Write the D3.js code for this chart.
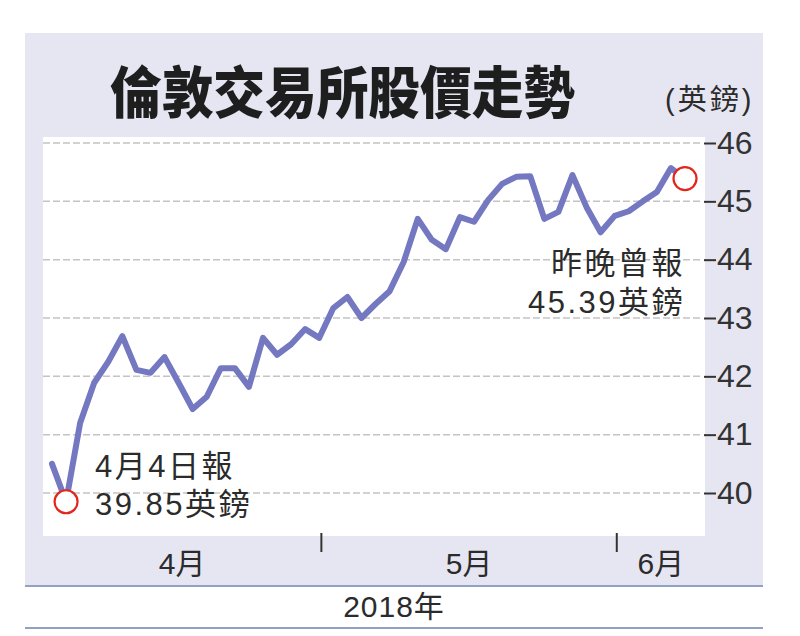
<!DOCTYPE html>
<html>
<head>
<meta charset="utf-8">
<script src="https://cdn.jsdelivr.net/npm/d3@7"></script>
<style>
  body { margin: 0; background: #fff; }
  svg { display: block; }
</style>
</head>
<body>
<svg id="chart" width="800" height="636"></svg>
<script>
// LSE share price, trading days from 3 Apr to 7 Jun 2018 (GBP)
const tradingDays = [
  "2018-04-03","2018-04-04","2018-04-05","2018-04-06","2018-04-09","2018-04-10","2018-04-11","2018-04-12","2018-04-13",
  "2018-04-16","2018-04-17","2018-04-18","2018-04-19","2018-04-20","2018-04-23","2018-04-24","2018-04-25","2018-04-26",
  "2018-04-27","2018-04-30",
  "2018-05-01","2018-05-02","2018-05-03","2018-05-04","2018-05-08","2018-05-09","2018-05-10","2018-05-11","2018-05-14",
  "2018-05-15","2018-05-16","2018-05-17","2018-05-18","2018-05-21","2018-05-22","2018-05-23","2018-05-24","2018-05-25",
  "2018-05-29","2018-05-30","2018-05-31",
  "2018-06-01","2018-06-04","2018-06-05","2018-06-06","2018-06-07"
];
const prices = [
  40.50, 39.85, 41.20, 41.89, 42.25, 42.69, 42.11, 42.06, 42.33, 41.89,
  41.44, 41.65, 42.14, 42.14, 41.82, 42.66, 42.37, 42.55, 42.81, 42.66,
  43.17, 43.36, 43.00, 43.24, 43.46, 43.96, 44.70, 44.34, 44.18, 44.73,
  44.65, 45.02, 45.30, 45.42, 45.43, 44.70, 44.82, 45.45, 44.90, 44.47,
  44.75, 44.83, 45.00, 45.16, 45.57, 45.39
];
const yTicks = [40, 41, 42, 43, 44, 45, 46];
const months = ["4月", "5月", "6月"];
const monthStart = ["2018-04", "2018-05", "2018-06"];
// the two highlighted quotes: index into tradingDays + caption lines
const callouts = [
  {idx: 1,  lines: ["4月4日報", "39.85英鎊"]},
  {idx: 45, lines: ["昨晚曾報", "45.39英鎊"]}
];
const title = "倫敦交易所股價走勢";
const unit = "(英鎊)";
const yearLabel = "2018年";

const svg = d3.select("#chart");
const font = "'Liberation Sans', 'Noto Sans CJK TC', sans-serif";

// panel layout
const panel = {left: 25, right: 763, top: 33, bottom: 586};
const plot = {left: 43, right: 705, top: 137, bottom: 536};

// background panel
svg.append("rect")
  .attr("x", panel.left).attr("y", panel.top)
  .attr("width", panel.right - panel.left).attr("height", panel.bottom - panel.top)
  .attr("fill", "#e5e6f2");

// bottom year band
svg.append("rect")
  .attr("x", panel.left).attr("y", panel.bottom)
  .attr("width", panel.right - panel.left).attr("height", 42)
  .attr("fill", "#fff");
[panel.bottom, panel.bottom + 42].forEach(yy => {
  svg.append("line")
    .attr("x1", panel.left).attr("x2", panel.right)
    .attr("y1", yy).attr("y2", yy)
    .attr("stroke", "#93a0c6").attr("stroke-width", 2);
});
svg.append("text")
  .attr("x", (panel.left + panel.right) / 2).attr("y", 617)
  .attr("text-anchor", "middle")
  .style("font-family", font).style("font-size", "30px")
  .style("letter-spacing", "1px")
  .attr("fill", "#2b2b2b")
  .text(yearLabel);

// title + unit
svg.append("text")
  .attr("x", 110).attr("y", 113)
  .attr("textLength", 465).attr("lengthAdjust", "spacingAndGlyphs")
  .style("font-family", "'Noto Sans CJK TC', sans-serif")
  .style("font-weight", 900).style("font-size", "56px")
  .attr("fill", "#1e1e1e")
  .text(title);
svg.append("text")
  .attr("x", 665).attr("y", 110)
  .style("font-family", font).style("font-size", "29px")
  .style("letter-spacing", "3px")
  .attr("fill", "#2b2b2b")
  .text(unit);

// white plot area
svg.append("rect")
  .attr("x", plot.left).attr("y", plot.top)
  .attr("width", plot.right - plot.left).attr("height", plot.bottom - plot.top)
  .attr("fill", "#fff");

// scales
let x = d3.scaleLinear()
  .domain([0, prices.length - 1])
  .range([52, 685]);
let y = d3.scaleLinear()
  .domain([40, 46])
  .range([493, 143]);

// dashed grid
svg.append("g")
  .selectAll("line")
  .data(yTicks)
  .join("line")
  .attr("x1", plot.left).attr("x2", plot.right - 2)
  .attr("y1", d => y(d)).attr("y2", d => y(d))
  .attr("stroke", "#c4c4c4").attr("stroke-width", 1.5)
  .attr("stroke-dasharray", "7,3");

// right axis
let yAxis = svg.append("g")
  .attr("transform", "translate(" + (plot.right - 1) + ",0)")
  .call(d3.axisRight(y).tickValues(yTicks).tickSize(12).tickPadding(1).tickFormat(d3.format("d")));
yAxis.select(".domain").remove();
yAxis.selectAll("line").attr("stroke", "#333").attr("stroke-width", 2);
yAxis.selectAll("text")
  .style("font-family", font).style("font-size", "32px")
  .attr("fill", "#333");

// month ticks: placed just before the first trading day of May / June
const firstIdx = monthStart.map(m => tradingDays.findIndex(d => d.startsWith(m)));
const tickX = firstIdx.slice(1).map(i => x(i - 0.85));
svg.append("g")
  .selectAll("line")
  .data(tickX)
  .join("line")
  .attr("x1", d => d).attr("x2", d => d)
  .attr("y1", plot.bottom - 3).attr("y2", 552)
  .attr("stroke", "#333").attr("stroke-width", 2);

// month labels centred in each month's span
const bounds = [plot.left].concat(tickX, [plot.right]);
svg.append("g")
  .selectAll("text")
  .data(months)
  .join("text")
  .attr("x", (d, i) => (bounds[i] + bounds[i + 1]) / 2)
  .attr("y", 574)
  .attr("text-anchor", "middle")
  .style("font-family", font).style("font-size", "30px")
  .attr("fill", "#2b2b2b")
  .text(d => d);

// price line
const line = d3.line()
  .x((d, i) => x(i))
  .y(d => y(d));
svg.append("path")
  .datum(prices)
  .attr("d", line)
  .attr("fill", "none")
  .attr("stroke", "#7478c0")
  .attr("stroke-width", 6)
  .attr("stroke-linejoin", "round")
  .attr("stroke-linecap", "round");

// highlight circles
svg.append("g")
  .selectAll("circle")
  .data(callouts)
  .join("circle")
  .attr("cx", d => x(d.idx))
  .attr("cy", d => y(prices[d.idx]))
  .attr("r", 11.5)
  .attr("fill", "#fff")
  .attr("stroke", "#e2261b")
  .attr("stroke-width", 2.2);

// callout captions
const cap = svg.append("g")
  .style("font-family", font).style("font-size", "31px")
  .style("letter-spacing", "2.5px")
  .attr("fill", "#2b2b2b");
// start quote: text right of circle, below the line
cap.selectAll("text.a")
  .data(callouts[0].lines)
  .join("text")
  .attr("x", 95)
  .attr("y", (d, i) => 477 + i * 38)
  .text(d => d);
// latest quote: right-aligned under the circle
cap.selectAll("text.b")
  .data(callouts[1].lines)
  .join("text")
  .attr("x", 685)
  .attr("y", (d, i) => 274 + i * 39)
  .attr("text-anchor", "end")
  .text(d => d);
</script>
</body>
</html>
